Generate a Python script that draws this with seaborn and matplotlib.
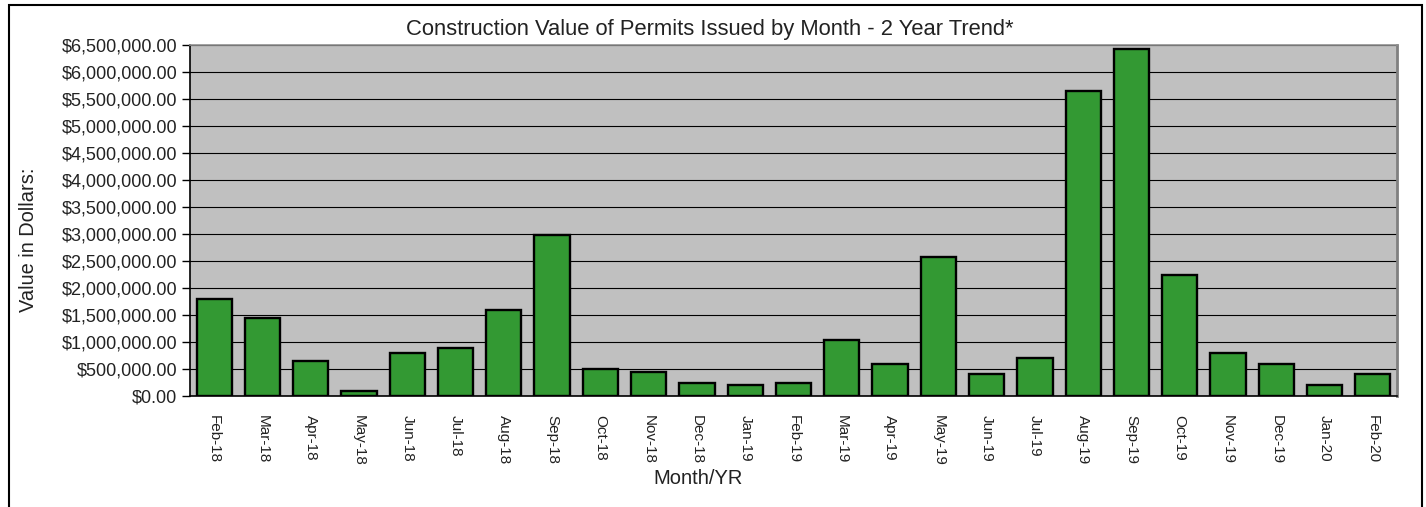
import numpy as np
import pandas as pd
import matplotlib
matplotlib.use("Agg")
import matplotlib.pyplot as plt
from matplotlib.patches import Rectangle
from matplotlib.ticker import FuncFormatter, FixedLocator
import seaborn as sns

months = ["Feb-18", "Mar-18", "Apr-18", "May-18", "Jun-18", "Jul-18", "Aug-18",
          "Sep-18", "Oct-18", "Nov-18", "Dec-18", "Jan-19", "Feb-19", "Mar-19",
          "Apr-19", "May-19", "Jun-19", "Jul-19", "Aug-19", "Sep-19", "Oct-19",
          "Nov-19", "Dec-19", "Jan-20", "Feb-20"]
values = [1800000, 1440000, 640000, 100000, 800000, 890000, 1590000,
          2980000, 500000, 440000, 250000, 210000, 250000, 1040000,
          600000, 2580000, 410000, 700000, 5650000, 6430000, 2240000,
          800000, 600000, 210000, 410000]

df = pd.DataFrame({"month": months, "value": values})

sns.set_style("white")
plt.rcParams["font.family"] = ["Liberation Sans", "DejaVu Sans"]
txt = "#222222"
W, H = 1426, 507

fig = plt.figure(figsize=(W / 100, H / 100), dpi=100)
ax = fig.add_axes([190 / W, 1 - 396 / H, 1207 / W, 351 / H])
ax.set_facecolor("#c0c0c0")

sns.barplot(data=df, x="month", y="value", color="#339933", saturation=1,
            edgecolor="black", linewidth=1.7, width=0.73, ax=ax, zorder=3)

ax.set_ylim(0, 6500000)
ax.set_xlim(-0.5, len(months) - 0.5)
ax.set_yticks(np.arange(0, 6500001, 500000))
ax.yaxis.set_major_formatter(FuncFormatter(lambda v, p: f"${v:,.2f}"))
ax.yaxis.grid(True, color="black", linewidth=0.8, zorder=0)
ax.set_axisbelow(True)

# ticks sit between the categories
ax.xaxis.set_minor_locator(FixedLocator(np.arange(-0.5, len(months), 1)))
ax.tick_params(axis="x", which="major", length=0, pad=14, labelsize=11,
               labelrotation=270, colors=txt)
ax.tick_params(axis="x", which="minor", length=5, width=1, color="black")
ax.tick_params(axis="y", length=6, width=1, color="black", labelsize=13,
               colors=txt, left=True, pad=3)
for lab in ax.get_xticklabels():
    lab.set_verticalalignment("top")

for s in ["left", "bottom"]:
    ax.spines[s].set_color("black")
    ax.spines[s].set_linewidth(1.2)
ax.spines["top"].set_color("#909090")
ax.spines["top"].set_linewidth(1.2)
ax.spines["right"].set_color("#808080")
ax.spines["right"].set_linewidth(2)

ax.set_xlabel("")
ax.set_ylabel("")
fig.text(698 / W, 1 - 479 / H, "Month/YR", fontsize=14.5, color=txt,
         ha="center", va="center")
fig.text(29 / W, 1 - 240 / H, "Value in Dollars:", fontsize=14.4, color=txt,
         ha="center", va="center", rotation=90)
fig.text(710 / W, 1 - 30 / H,
         "Construction Value of Permits Issued by Month - 2 Year Trend*",
         fontsize=15.8, color=txt, ha="center", va="center")

fig.patches.append(Rectangle((9 / W, -0.01), 1413 / W, 1.01 - 5 / H,
                             transform=fig.transFigure, fill=False,
                             edgecolor="black", linewidth=1.5))

fig.savefig("out.png", dpi=100)
